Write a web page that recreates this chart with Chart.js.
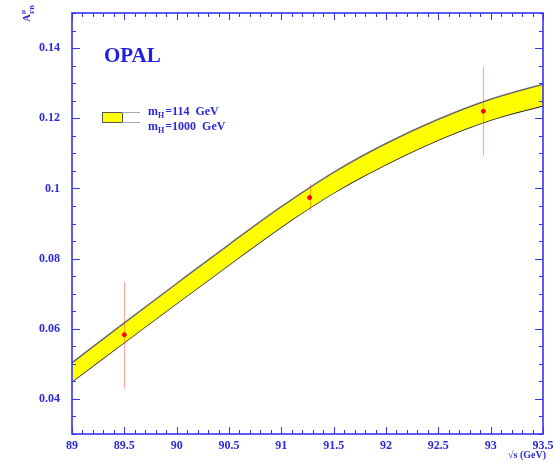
<!DOCTYPE html>
<html>
<head>
<meta charset="utf-8">
<script src="https://cdn.jsdelivr.net/npm/chart.js@4"></script>
<style>
  html, body { margin: 0; padding: 0; background: #fff; }
  #wrap { width: 555px; height: 462px; }
</style>
</head>
<body>
<div id="wrap"><canvas id="grafico" width="555" height="462"></canvas></div>
<script>
// Datos
const energias = [89, 89.5, 90, 90.5, 91, 91.5, 92, 92.5, 93, 93.5];
const bandaAlta = [0.0503, 0.0617, 0.0729, 0.0840, 0.0948, 0.1046, 0.1128, 0.1197, 0.1254, 0.1297];
const bandaBaja = [0.0449, 0.0561, 0.0672, 0.0782, 0.0890, 0.0987, 0.1068, 0.1138, 0.1195, 0.1236];

const puntosX = [89.5, 91.27, 92.93];
const puntosY = [0.0583, 0.0974, 0.1220];
const errorAlto = [0.0734, 0.1012, 0.1346];
const errorBajo = [0.0429, 0.0934, 0.1094];

const ticksX = [89, 89.5, 90, 90.5, 91, 91.5, 92, 92.5, 93, 93.5];
const ticksY = [0.04, 0.06, 0.08, 0.1, 0.12, 0.14];

const azul = '#3535f0';
const azulTexto = '#2a2ad8';

// Marco con marcas hacia dentro, barras de error y textos
const marcoPlugin = {
    id: 'marco',
    afterDatasetDraw(chart, args) {
        if (args.index !== 0) return;
        const ctx = chart.ctx;
        const x = chart.scales.x, y = chart.scales.y;
        ctx.save();
        ctx.strokeStyle = 'rgba(255,60,60,0.45)';
        ctx.lineWidth = 1.2;
        puntosX.forEach(function(px, i) {
            const xp = Math.round(x.getPixelForValue(px)) + 0.5;
            ctx.beginPath();
            ctx.moveTo(xp, y.getPixelForValue(errorAlto[i]));
            ctx.lineTo(xp, y.getPixelForValue(errorBajo[i]));
            ctx.stroke();
        });
        ctx.restore();
    },
    afterDraw(chart) {
        const ctx = chart.ctx;
        const a = chart.chartArea;
        const x = chart.scales.x, y = chart.scales.y;
        ctx.save();
        ctx.strokeStyle = azul;
        ctx.lineWidth = 1.6;
        ctx.strokeRect(a.left, a.top, a.right - a.left, a.bottom - a.top);

        ctx.lineWidth = 1;
        ctx.beginPath();
        // marcas del eje x cada 0.1
        for (let i = 0; i <= 45; i++) {
            const v = 89 + i * 0.1;
            const xp = Math.round(x.getPixelForValue(v)) + 0.5;
            const len = (i % 5 === 0) ? 7 : 4;
            ctx.moveTo(xp, a.bottom); ctx.lineTo(xp, a.bottom - len);
            ctx.moveTo(xp, a.top); ctx.lineTo(xp, a.top + len);
        }
        // marcas del eje y cada 0.005
        for (let i = 0; i <= 24; i++) {
            const v = 0.03 + i * 0.005;
            const yp = Math.round(y.getPixelForValue(v)) + 0.5;
            const len = (i % 4 === 2) ? 8 : 4;
            ctx.moveTo(a.left, yp); ctx.lineTo(a.left + len, yp);
            ctx.moveTo(a.right, yp); ctx.lineTo(a.right - len, yp);
        }
        ctx.stroke();

        // OPAL
        ctx.fillStyle = '#2020e0';
        ctx.font = 'bold 21px "Liberation Serif"';
        ctx.textBaseline = 'alphabetic';
        ctx.fillText('OPAL', 104, 62);

        // leyenda
        ctx.fillStyle = '#ffff00';
        ctx.fillRect(102, 112, 20, 10);
        ctx.strokeStyle = '#555';
        ctx.lineWidth = 1;
        ctx.strokeRect(102.5, 112.5, 20, 10);
        ctx.strokeStyle = '#aaa';
        ctx.beginPath();
        ctx.moveTo(122, 112.5); ctx.lineTo(140, 112.5);
        ctx.moveTo(122, 122.5); ctx.lineTo(140, 122.5);
        ctx.stroke();

        ctx.fillStyle = azulTexto;
        function masa(texto, x0, y0) {
            ctx.font = 'bold 12px "Liberation Serif"';
            ctx.fillText('m', x0, y0);
            let w = ctx.measureText('m').width;
            ctx.font = 'bold 8px "Liberation Serif"';
            ctx.fillText('H', x0 + w, y0 + 3);
            w += ctx.measureText('H').width + 1;
            ctx.font = 'bold 12px "Liberation Serif"';
            ctx.fillText(texto, x0 + w, y0);
        }
        masa('=114  GeV', 148, 115);
        masa('=1000  GeV', 148, 130);

        // titulo eje x
        ctx.font = 'bold 10px "Liberation Serif"';
        ctx.textAlign = 'right';
        ctx.fillText('\u221As (GeV)', 546, 458);

        // titulo eje y
        ctx.translate(30, 22);
        ctx.rotate(-Math.PI / 2);
        ctx.textAlign = 'left';
        ctx.font = 'bold 11px "Liberation Serif"';
        ctx.fillText('A', 0, 0);
        ctx.font = 'bold 7px "Liberation Serif"';
        ctx.fillText('\u03BC', 8, -5);
        ctx.fillText('FB', 8, 4);
        ctx.restore();
    }
};

const ctx = document.getElementById('grafico').getContext('2d');

new Chart(ctx, {
    type: 'line',
    data: {
        datasets: [{
            data: energias.map((e, i) => ({ x: e, y: bandaAlta[i] })),
            borderColor: '#6a6a6a',
            borderWidth: 1.5,
            backgroundColor: '#ffff00',
            fill: '+1',
            pointRadius: 0,
            order: 1,
            cubicInterpolationMode: 'monotone'
        }, {
            data: energias.map((e, i) => ({ x: e, y: bandaBaja[i] })),
            borderColor: '#222',
            borderWidth: 1.5,
            fill: false,
            pointRadius: 0,
            order: 1,
            cubicInterpolationMode: 'monotone'
        }, {
            type: 'scatter',
            data: puntosX.map((e, i) => ({ x: e, y: puntosY[i] })),
            backgroundColor: '#ff0000',
            borderColor: '#ff0000',
            pointRadius: 2,
            order: 0,
            showLine: false
        }]
    },
    options: {
        responsive: false,
        animation: false,
        layout: { padding: { left: 0, top: 13, right: 12, bottom: 0 } },
        plugins: {
            legend: { display: false },
            tooltip: { enabled: false }
        },
        scales: {
            x: {
                type: 'linear',
                min: 89,
                max: 93.5,
                afterBuildTicks: s => { s.ticks = ticksX.map(v => ({ value: v })); },
                afterFit: s => { s.height = 28; s.paddingLeft = 0; s.paddingRight = 0; },
                grid: { display: false, drawTicks: false },
                border: { display: false },
                ticks: {
                    padding: 5,
                    maxRotation: 0,
                    autoSkip: false,
                    color: azulTexto,
                    font: { family: 'Liberation Serif', size: 12, weight: 'bold' },
                    callback: v => String(v)
                }
            },
            y: {
                min: 0.03,
                max: 0.15,
                afterBuildTicks: s => { s.ticks = ticksY.map(v => ({ value: v })); },
                afterFit: s => { s.width = 72; s.paddingTop = 0; s.paddingBottom = 0; },
                grid: { display: false, drawTicks: false },
                border: { display: false },
                ticks: {
                    padding: 12,
                    autoSkip: false,
                    color: azulTexto,
                    font: { family: 'Liberation Serif', size: 12, weight: 'bold' },
                    callback: v => String(parseFloat(v.toFixed(3)))
                }
            }
        }
    },
    plugins: [marcoPlugin]
});
</script>
</body>
</html>
